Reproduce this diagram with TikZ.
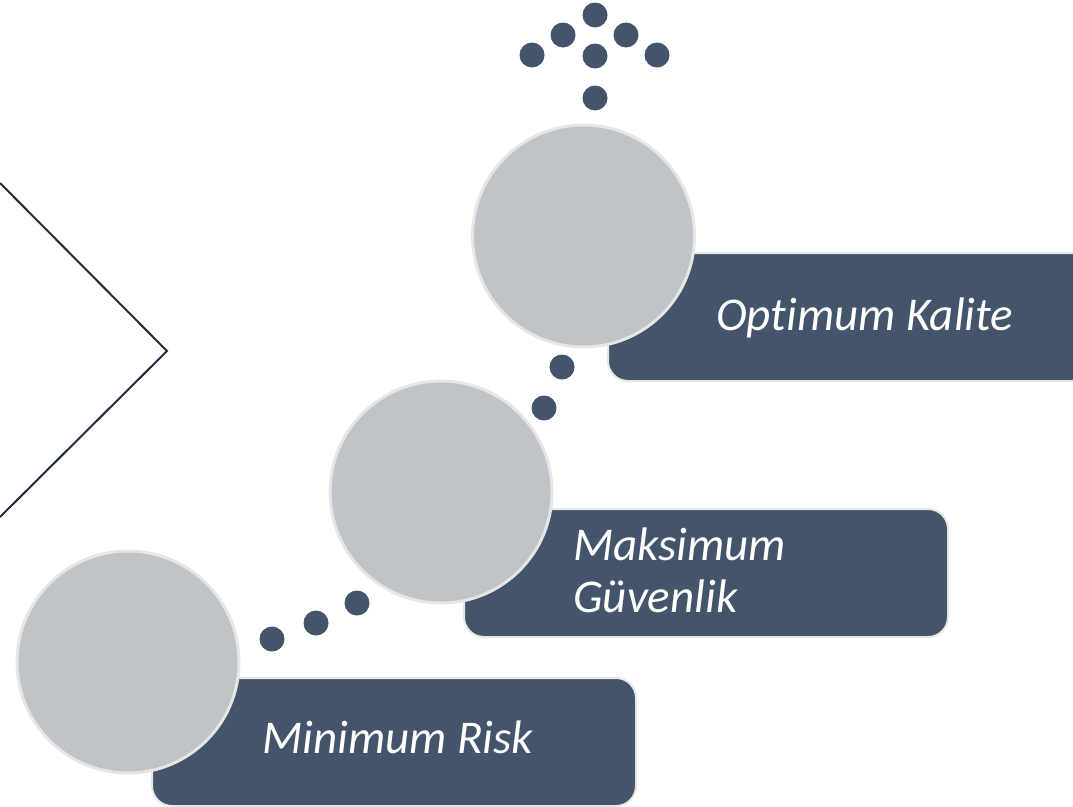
\documentclass[tikz,border=0pt]{standalone}
\usepackage{fontspec}
\setmainfont{Carlito}[Ligatures=NoCommon]
\definecolor{slate}{HTML}{44546A}
\definecolor{discgray}{HTML}{C0C3C7}
\definecolor{rim}{HTML}{E6E6E6}
\definecolor{navy}{HTML}{1F2A44}
\begin{document}
\begin{tikzpicture}[x=1pt,y=-1pt,
  card/.style={draw=rim, line width=2pt, fill=slate, rounded corners=20pt,
    minimum width=484pt, minimum height=128pt, anchor=north west, inner sep=0pt},
  disc/.style={circle, draw=rim, line width=3pt, fill=discgray,
    minimum size=222pt, inner sep=0pt},
  dot/.style={circle, fill=slate, minimum size=25pt, inner sep=0pt},
  cardtext/.style={text=white, font=\itshape\fontsize{47}{52}\selectfont,
    anchor=base west, align=left, inner sep=0pt}]
\clip (0,0) rectangle (1073,806);
% chevron
\coordinate (c1) at (0,183);
\coordinate (c2) at (167,351);
\coordinate (c3) at (0,517);
\draw[navy, line width=2pt] (c1) -- (c2) -- (c3);
% top arrow of dots
\node[dot] (t1) at (595,15) {};
\node[dot] (t2) at (563,35) {};
\node[dot] (t3) at (626,35) {};
\node[dot] (t4) at (532,55) {};
\node[dot] (t5) at (595,56) {};
\node[dot] (t6) at (657,55) {};
\node[dot] (t7) at (595,98) {};
% cards
\node[card] (r3) at (607,252) {};
\node[card] (r2) at (463,508) {};
\node[card] (r1) at (151,677) {};
% discs
\node[disc] (d3) at (583.5,236) {};
\node[disc] (d2) at (441,492) {};
\node[disc] (d1) at (128,662) {};
% connecting dots
\node[dot] (m1) at (562,367) {};
\node[dot] (m2) at (544,408) {};
\node[dot] (b1) at (272,639) {};
\node[dot] (b2) at (316,623) {};
\node[dot] (b3) at (357,603) {};
% texts
\node[cardtext] (x3) at (716,330) {Optimum Kalite};
\node[cardtext] (x2) at (573,612) {Maksimum\\Güvenlik};
\node[cardtext] (x1) at (262,753) {Minimum Risk};
\end{tikzpicture}
\end{document}
